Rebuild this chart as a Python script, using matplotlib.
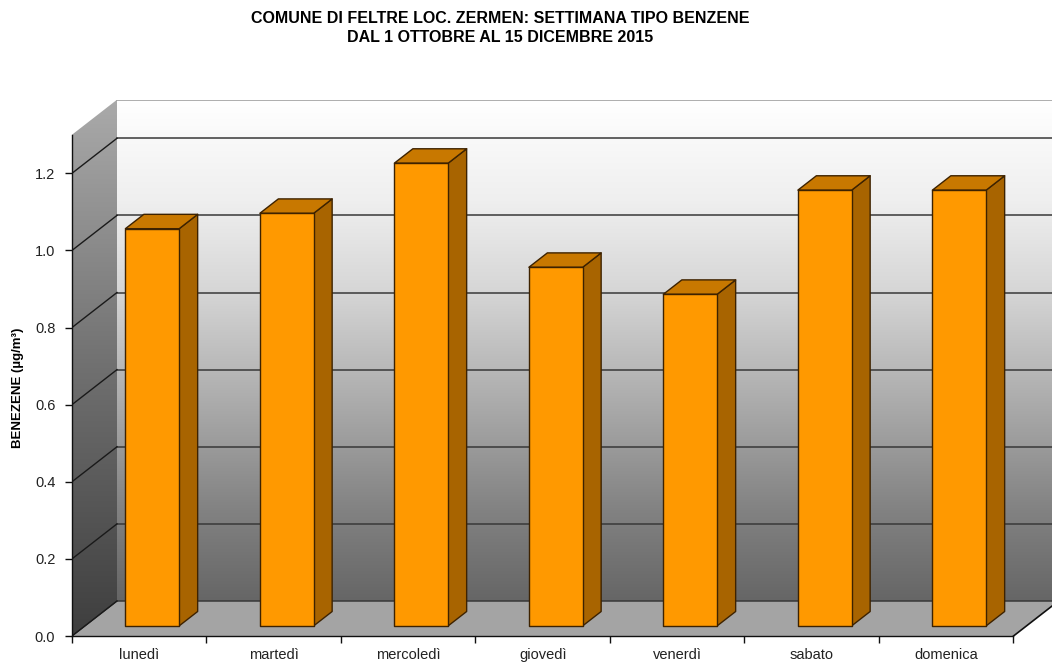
import numpy as np
import matplotlib
matplotlib.use("Agg")
import matplotlib.pyplot as plt
from matplotlib.patches import Polygon
from matplotlib.colors import LinearSegmentedColormap

plt.rcParams['font.family'] = ['Liberation Sans', 'DejaVu Sans']

# Weekly profile of benzene concentration
giorni = ["lunedì", "martedì", "mercoledì", "giovedì", "venerdì", "sabato", "domenica"]
benzene = [1.03, 1.07, 1.20, 0.93, 0.86, 1.13, 1.13]
yticks = [0.0, 0.2, 0.4, 0.6, 0.8, 1.0, 1.2]
ymax_axis = 1.3

title = ("COMUNE DI FELTRE LOC. ZERMEN: SETTIMANA TIPO BENZENE\n"
         "DAL 1 OTTOBRE AL 15 DICEMBRE 2015")
ylabel = "BENEZENE (µg/m³)"

# --- figure geometry -------------------------------------------------------
W, H = 1052, 663
fig = plt.figure(figsize=(W / 100, H / 100), dpi=100)
x0_px, base_px, top_px = 72, 636, 100
cat_px = 134.5
ax = fig.add_axes([x0_px / W, (H - base_px) / H, (W - x0_px) / W, (base_px - top_px) / H])
px_per_unit = 385.6
xmax = (W - x0_px) / cat_px
ylim_top = (base_px - top_px) / px_per_unit
ax.set_xlim(0, xmax)
ax.set_ylim(0, ylim_top)

# oblique depth offset of the 3-D box (in data units)
DX = 45 / cat_px
DY = 35 / px_per_unit
n = len(giorni)

def grad_image(ax, poly, stops, extent):
    cmap = LinearSegmentedColormap.from_list("g", stops)
    grad = np.linspace(1, 0, 256).reshape(-1, 1)
    im = ax.imshow(grad, cmap=cmap, extent=extent, aspect='auto',
                   origin='upper', vmin=0, vmax=1, zorder=1, interpolation='bilinear')
    patch = Polygon(poly, closed=True, facecolor='none', edgecolor='none', zorder=1)
    ax.add_patch(patch)
    im.set_clip_path(patch)

# back wall
back_poly = [(DX, DY), (xmax + 1, DY), (xmax + 1, ymax_axis + DY), (DX, ymax_axis + DY)]
grad_image(ax, back_poly,
           [(0.0, "#666666"), (0.18, "#828282"), (0.42, "#b0b0b0"),
            (0.62, "#d6d6d6"), (0.80, "#efefef"), (1.0, "#ffffff")],
           (DX, xmax + 1, DY, ymax_axis + DY))

# left side wall
left_poly = [(0, 0), (DX, DY), (DX, ymax_axis + DY), (0, ymax_axis)]
grad_image(ax, left_poly,
           [(0.0, "#3e3e3e"), (0.5, "#707070"), (1.0, "#aaaaaa")],
           (0, DX, 0, ymax_axis + DY))

# floor
floor_poly = [(0, 0), (n, 0), (n + DX, DY), (DX, DY)]
ax.add_patch(Polygon(floor_poly, closed=True, facecolor="#a4a4a4", edgecolor="none", zorder=2))
ax.plot([0, DX], [0, DY], color="#202020", lw=0.8, zorder=3)
ax.plot([n, n + DX], [0, DY], color="#101010", lw=1.2, zorder=3, clip_on=False)

# gridlines: back wall and left wall
for v in yticks:
    ax.plot([DX, xmax + 1], [v + DY, v + DY], color="#383838", lw=1.1, zorder=3)
    ax.plot([0, DX], [v, v + DY], color="#1a1a1a", lw=1.0, zorder=3)
ax.plot([DX, xmax + 1], [ymax_axis + DY] * 2, color="#a0a0a0", lw=1.2, zorder=3)

# bars
bw = 0.40
f0, f1 = 0.29, 0.70
edge = "#3d2200"
for i, v in enumerate(benzene):
    c = i + 0.5
    xa, xb = c - bw / 2, c + bw / 2
    front = [(xa + f0 * DX, f0 * DY), (xb + f0 * DX, f0 * DY),
             (xb + f0 * DX, v + f0 * DY), (xa + f0 * DX, v + f0 * DY)]
    side = [(xb + f0 * DX, f0 * DY), (xb + f1 * DX, f1 * DY),
            (xb + f1 * DX, v + f1 * DY), (xb + f0 * DX, v + f0 * DY)]
    top = [(xa + f0 * DX, v + f0 * DY), (xb + f0 * DX, v + f0 * DY),
           (xb + f1 * DX, v + f1 * DY), (xa + f1 * DX, v + f1 * DY)]
    for poly, col in ((side, "#a86400"), (top, "#c87800"), (front, "#ff9900")):
        ax.add_patch(Polygon(poly, closed=True, facecolor=col, edgecolor=edge,
                             lw=1.0, zorder=5, joinstyle='round'))

# axes, ticks and labels
for s in ("top", "right"):
    ax.spines[s].set_visible(False)
ax.spines["left"].set_bounds(0, ymax_axis)
ax.spines["bottom"].set_bounds(0, n)
for s in ("left", "bottom"):
    ax.spines[s].set_color("#101010")
    ax.spines[s].set_linewidth(1.0)
    ax.spines[s].set_zorder(6)

ax.set_yticks(yticks)
ax.set_yticklabels([f"{t:.1f}" for t in yticks], fontsize=10.5, color="#222222")
ax.set_xticks(range(n + 1))
ax.set_xticklabels([])
ax.set_xticks([i + 0.5 for i in range(n)], minor=True)
ax.set_xticklabels(giorni, minor=True, fontsize=10.5, color="#222222")
ax.tick_params(axis="y", length=5, width=1.0, color="#101010", pad=7)
ax.tick_params(axis="x", which="major", length=5, width=1.0, color="#101010", direction="out")
ax.tick_params(axis="x", which="minor", length=0, pad=8.5)

fig.text(18 / W, 1 - 388 / H, ylabel, rotation=90, ha="center", va="center",
         fontsize=9.5, fontweight="bold")
fig.text(500 / W, 1 - 28 / H, title, ha="center", va="center", fontsize=11.5,
         fontweight="bold", linespacing=1.3)

fig.savefig("out.png", dpi=100, facecolor="white")
